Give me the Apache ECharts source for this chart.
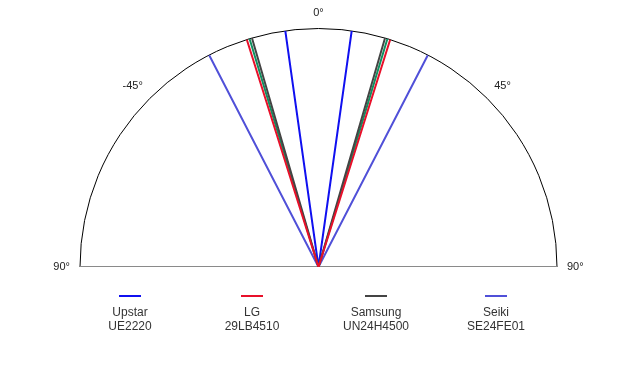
<!DOCTYPE html>
<html>
<head>
<meta charset="utf-8">
<script src="https://cdn.jsdelivr.net/npm/echarts@6/dist/echarts.min.js"></script>
<style>html,body{margin:0;padding:0;background:#fff}#c{width:639px;height:382px}</style>
</head>
<body>
<div id="c"></div>
<script>
// Viewing-angle half-widths (degrees)
const seriesNames = ['Upstar\nUE2220', 'LG\n29LB4510', 'Samsung\nUN24H4500', 'Seiki\nSE24FE01', 'other'];
const viewAngles = [8, 17.5, 16.2, 27.3, 16.8];
const seriesColors = ['#1010f0', '#e8102a', '#444444', '#5050d8', '#109060'];
const legendNames = ['Upstar\nUE2220', 'LG\n29LB4510', 'Samsung\nUN24H4500', 'Seiki\nSE24FE01'];
const tickValues = [-90, -45, 0, 45, 90];
const tickLabels = ['90°', '-45°', '0°', '45°', '90°'];

const chart = echarts.init(document.getElementById('c'), null, {renderer: 'canvas'});

const cx = 318.5, cy = 267, R = 238.5;

const series = [{
  type: 'line', coordinateSystem: 'polar', name: 'base', silent: true, symbol: 'none',
  data: [[1, -90], [0, 0], [1, 90]],
  lineStyle: {color: '#8a8a8a', width: 2}, z: 1
}];
// draw order: outer first
const order = [3, 0, 4, 2, 1];
order.forEach(i => {
  const a = viewAngles[i];
  series.push({
    type: 'line', coordinateSystem: 'polar', name: seriesNames[i], symbol: 'none',
    data: [[1, -a], [0, 0], [1, a]],
    lineStyle: {color: seriesColors[i], width: 2},
    itemStyle: {color: seriesColors[i]},
    z: 3
  });
});

const legendX = [130, 252, 376, 496];
const graphic = [];
legendNames.forEach((n, i) => {
  const c = seriesColors[seriesNames.indexOf(n)];
  graphic.push({type: 'line', shape: {x1: legendX[i] - 11, y1: 296, x2: legendX[i] + 11, y2: 296},
    style: {stroke: c, lineWidth: 2}});
  graphic.push({type: 'text', x: legendX[i], y: 306,
    style: {text: n, fill: '#333', font: '12px "Liberation Sans", Arial, sans-serif',
      textAlign: 'center', textVerticalAlign: 'top', lineHeight: 14}});
});

chart.setOption({
  animation: false,
  polar: {center: [cx, cy], radius: R},
  angleAxis: {
    type: 'value', min: -90, max: 90, interval: 45,
    startAngle: 180, endAngle: 0, clockwise: true,
    axisLine: {show: true, lineStyle: {color: '#000', width: 1}},
    axisTick: {show: false},
    splitLine: {show: false},
    axisLabel: {
      show: true, margin: 10, color: '#222', fontSize: 11,
      fontFamily: '"Liberation Sans", Arial, sans-serif',
      formatter: v => { const k = tickValues.indexOf(v); return k >= 0 ? tickLabels[k] : ''; }
    }
  },
  radiusAxis: {
    min: 0, max: 1,
    axisLine: {show: false}, axisTick: {show: false}, axisLabel: {show: false}, splitLine: {show: false}
  },
  series: series,
  graphic: graphic
});
</script>
</body>
</html>
